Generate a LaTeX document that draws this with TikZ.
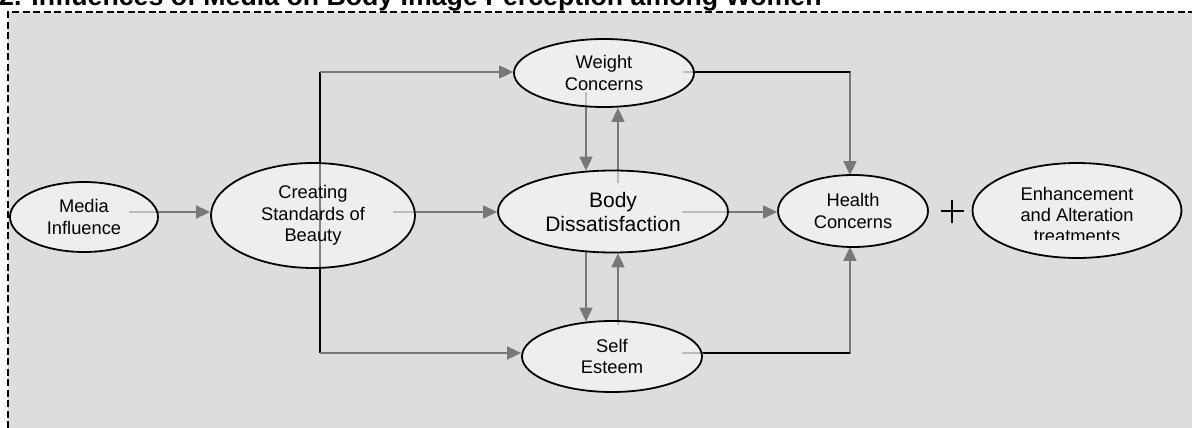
\documentclass[tikz,border=0pt]{standalone}
\usepackage{fontspec}
\setmainfont{Liberation Sans}
\usetikzlibrary{shapes.geometric,arrows.meta,calc}
\pgfdeclarelayer{back}
\pgfdeclarelayer{lines}
\pgfsetlayers{back,lines,main}
\definecolor{bgfill}{HTML}{DDDDDD}
\definecolor{linegray}{HTML}{787878}
\begin{document}
\begin{tikzpicture}[x=1pt,y=-1pt,
  bubble/.style={ellipse, draw=black, line width=1.8pt, fill=white, fill opacity=0.5, text opacity=1,
    inner sep=0pt, align=center, font=\fontsize{18.3}{21.5}\selectfont},
  conn/.style={draw=linegray, line width=1.8pt, -{Triangle[length=14pt,width=13pt]}},
  plainconn/.style={draw=linegray, line width=1.8pt},
  blackline/.style={draw=black, line width=1.8pt},
  enhtext/.style={anchor=base, inner sep=0pt, font=\fontsize{18.3}{21.5}\selectfont}
]
\useasboundingbox (0,0) rectangle (1192,428);
\begin{pgfonlayer}{back}
  \fill[bgfill] (8,12) rectangle (1192,428);
  \draw[line width=1.5pt, dash pattern=on 7pt off 3.5pt] (8,428) -- (8,12) -- (1192,12);
\end{pgfonlayer}

\node[anchor=base west, inner sep=0pt, font=\bfseries\fontsize{26.7}{30}\selectfont] (title) at (-1,5.5)
  {2. Influences of Media on Body Image Perception among Women};

% nodes
\node[bubble, minimum width=148pt, minimum height=70pt] (media) at (84,217) {Media\\Influence};
\node[bubble, minimum width=204pt, minimum height=105pt] (creating) at (313,215.5) {Creating\\Standards of\\Beauty};
\node[bubble, minimum width=230pt, minimum height=82pt, font=\fontsize{21}{24}\selectfont] (body) at (613,211.5) {Body\\Dissatisfaction};
\node[bubble, minimum width=180pt, minimum height=68pt] (weight) at (604,73) {Weight\\Concerns};
\node[bubble, minimum width=180pt, minimum height=71pt] (self) at (612,356.5) {Self\\Esteem};
\node[bubble, minimum width=150pt, minimum height=72pt] (health) at (853,211) {Health\\Concerns};
\node[bubble, minimum width=209pt, minimum height=95pt] (enh) at (1077,210.5) {};
\begin{scope}
  \clip (970,150) rectangle (1185,239);
  \node[enhtext] (enh1) at (1077,200) {Enhancement};
  \node[enhtext] (enh2) at (1077,221.7) {and Alteration};
  \node[enhtext] (enh3) at (1077,242.5) {treatments};
\end{scope}

% plus sign
\draw[line width=1.6pt] (940.5,211) -- (963.5,211) (952,200) -- (952,222.5);

% connector points
\coordinate (c1) at (320,72);
\coordinate (c2) at (320,353);
\coordinate (m1) at (129,212);
\coordinate (cr1) at (393,212);
\coordinate (b1) at (682,212);
\coordinate (w1) at (683,72);
\coordinate (w2) at (850,72);
\coordinate (s1) at (682,353);
\coordinate (s2) at (850,353);
\coordinate (wd) at (586,92);
\coordinate (bu) at (618,183);
\coordinate (bd) at (586,250);
\coordinate (su) at (618,325);

\begin{pgfonlayer}{lines}
  \draw[blackline] (c1) -- (c2);
  \draw[conn] (c1) -- (c1 -| weight.west);
  \draw[conn] (c2) -- (c2 -| self.west);
  \draw[conn] (m1) -- (m1 -| creating.west);
  \draw[conn] (cr1) -- (cr1 -| body.west);
  \draw[conn] (b1) -- (b1 -| health.west);
  \draw[conn] (w1) -- (w2) -- ($(w2 |- health.north)+(0,1)$);
  \draw[blackline] (w1 -| weight.east) -- (w2);
  \draw[conn] (s1) -- (s2) -- ($(s2 |- health.south)+(0,-1)$);
  \draw[blackline] (s1 -| self.east) -- (s2);
  \draw[conn] (wd) -- ($(wd |- body.north)+(0,1)$);
  \draw[conn] (bu) -- (bu |- weight.south);
  \draw[conn] (bd) -- ($(bd |- self.north)+(0,1.5)$);
  \draw[conn] (su) -- (su |- body.south);
\end{pgfonlayer}
\end{tikzpicture}
\end{document}
